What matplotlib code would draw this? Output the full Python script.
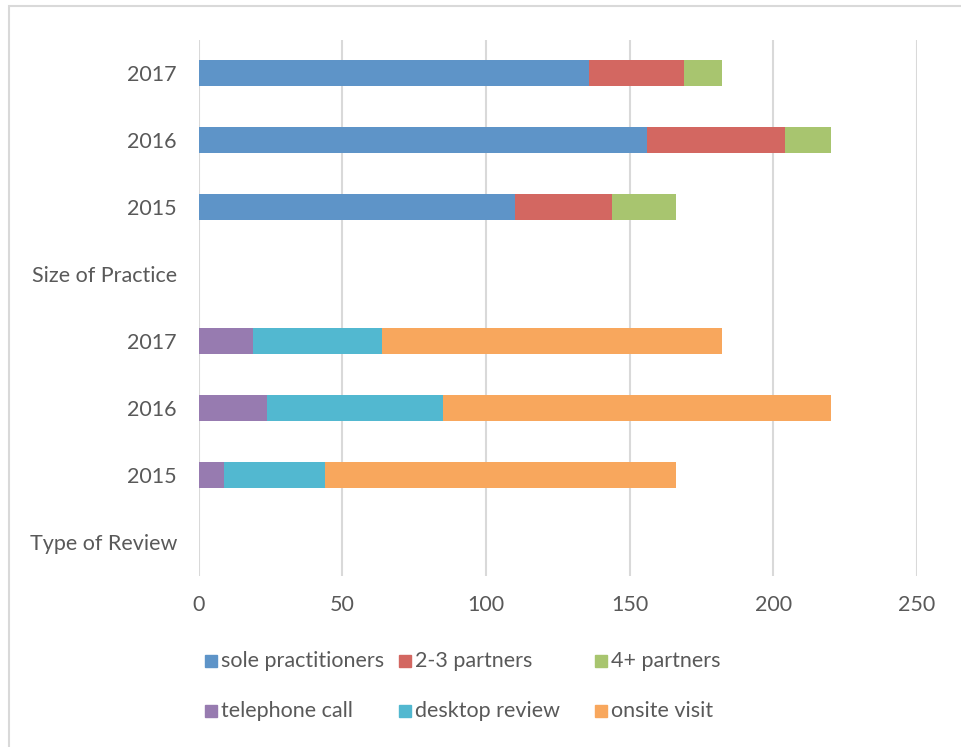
import matplotlib
matplotlib.use("Agg")
import matplotlib.pyplot as plt
from matplotlib.patches import Rectangle
import numpy as np

plt.rcParams['font.family'] = ['Lato', 'DejaVu Sans']

categories = ["Type of Review", "2015", "2016", "2017", "Size of Practice", "2015", "2016", "2017"]
years = ["2015", "2016", "2017"]
# Type of Review
telephone = [9, 24, 19]
desktop = [35, 61, 45]
onsite = [122, 135, 118]
# Size of Practice
sole = [110, 156, 136]
partners23 = [34, 48, 33]
partners4 = [22, 16, 13]

c_sole, c_23, c_4 = "#5E94C8", "#D36761", "#A8C56F"
c_tel, c_desk, c_on = "#977BB0", "#52B8D0", "#F8A75D"
txt_col = "#595959"
fs = 15.5

W, H = 961, 747
fig = plt.figure(figsize=(W/100, H/100), dpi=100)
ax = fig.add_axes([198.5/W, (H-575.5)/H, (917-198.5)/W, (575.5-39.5)/H])

pos_review = np.array([1, 2, 3])
pos_size = np.array([5, 6, 7])
h = 0.4

def stack(ax, pos, series, colors):
    left = np.zeros(len(pos))
    for vals, col in zip(series, colors):
        v = np.array(vals, dtype=float)
        ax.barh(pos, v, left=left, height=h, color=col, edgecolor='none', zorder=3)
        left += v

stack(ax, pos_size, [sole, partners23, partners4], [c_sole, c_23, c_4])
stack(ax, pos_review, [telephone, desktop, onsite], [c_tel, c_desk, c_on])

ax.set_xlim(0, 250)
ax.set_ylim(-0.5, 7.5)
ax.set_xticks([0, 50, 100, 150, 200, 250])
ax.set_yticks(range(len(categories)))
ax.set_yticklabels(categories)
ax.tick_params(axis='both', length=0, labelsize=fs, labelcolor=txt_col)
ax.tick_params(axis='y', pad=15.5)
ax.tick_params(axis='x', pad=14)
for s in ax.spines.values():
    s.set_visible(False)
ax.grid(axis='x', color="#D9D9D9", linewidth=1.5, zorder=0)
ax.set_axisbelow(True)

# Legend (Excel-style equal-width columns)
leg_labels = [["sole practitioners", "2-3 partners", "4+ partners"],
              ["telephone call", "desktop review", "onsite visit"]]
leg_colors = [[c_sole, c_23, c_4], [c_tel, c_desk, c_on]]
col_x = [205, 399, 595]
row_y = [661, 711]
msz = 12
for r in range(2):
    for c in range(3):
        x0, yc = col_x[c], row_y[r]
        fig.patches.append(Rectangle((x0/W, (H-yc-msz/2)/H), msz/W, msz/H,
                                     transform=fig.transFigure, color=leg_colors[r][c]))
        fig.text((x0+msz+4)/W, (H-yc)/H, leg_labels[r][c], fontsize=fs, color=txt_col,
                 va='center', ha='left')

# chart border (extends beyond right/bottom edges)
fig.patches.append(Rectangle((9/W, -0.05), 1.1, (H-6)/H + 0.05, transform=fig.transFigure,
                             fill=False, edgecolor="#D9D9D9", linewidth=1.5))

fig.savefig("out.png", dpi=100, facecolor="white")
